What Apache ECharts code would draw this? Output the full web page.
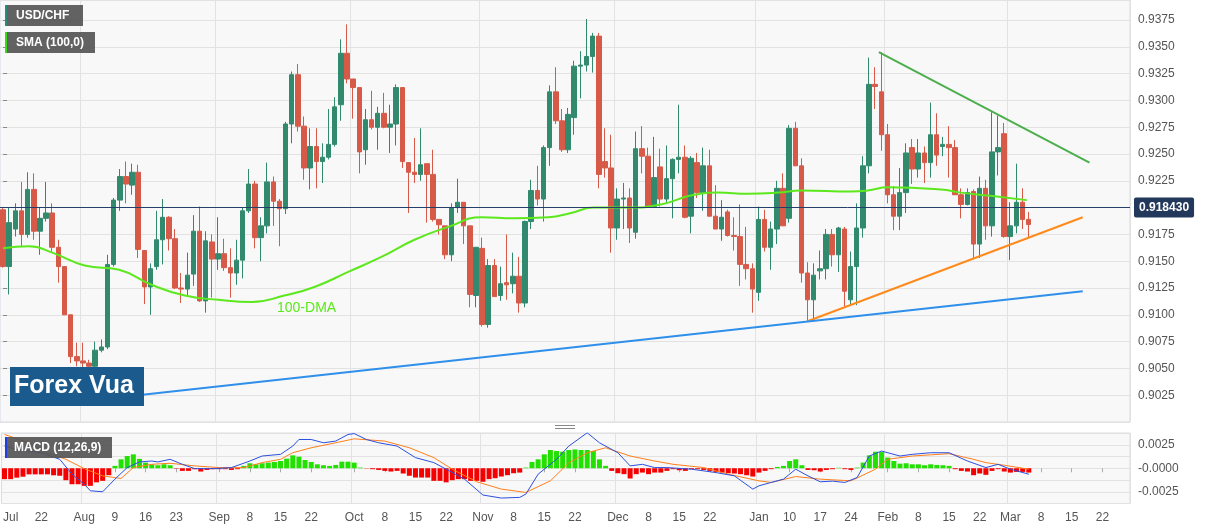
<!DOCTYPE html>
<html><head><meta charset="utf-8">
<script src="https://cdn.jsdelivr.net/npm/echarts@6/dist/echarts.min.js"></script>
<style>html,body{margin:0;padding:0;background:#fff}#c{width:1207px;height:526px}</style>
</head><body><div id="c"></div>
<script>
// candles: [open, close, low, high]
const candles = [
[.9198,.9145,.9144,.9200],[.9145,.9186,.9119,.9200],[.9180,.9197,.9173,.9204],[.9197,.9175,.9164,.9224],[.9175,.9217,.9172,.9233],
[.9217,.9178,.9170,.9232],[.9178,.9190,.9156,.9200],[.9190,.9195,.9187,.9224],[.9195,.9163,.9158,.9204],[.9163,.9145,.9130,.9170],
[.9145,.9100,.9100,.9145],[.9100,.9061,.9055,.9100],[.9061,.9057,.9052,.9074],[.9057,.9055,.9049,.9074],[.9055,.9052,.9046,.9058],
[.9052,.9067,.9049,.9075],[.9067,.9070,.9065,.9077],[.9070,.9147,.9068,.9156],[.9147,.9207,.9145,.9209],[.9207,.9229,.9197,.9236],
[.9229,.9222,.9204,.9243],[.9221,.9233,.9212,.9241],[.9233,.9161,.9153,.9240],[.9160,.9126,.9110,.9160],[.9126,.9143,.9100,.9148],
[.9145,.9170,.9142,.9197],[.9170,.9191,.9147,.9208],[.9191,.9171,.9160,.9192],[.9171,.9125,.9124,.9180],[.9125,.9124,.9111,.9139],
[.9124,.9137,.9118,.9158],[.9138,.9178,.9127,.9193],[.9178,.9113,.9112,.9201],[.9113,.9169,.9102,.9178],[.9168,.9152,.9116,.9175],
[.9152,.9157,.9142,.9191],[.9157,.9144,.9141,.9171],[.9144,.9139,.9116,.9162],[.9139,.9151,.9128,.9170],[.9151,.9197,.9134,.9200],
[.9197,.9222,.9195,.9236],[.9222,.9172,.9162,.9225],[.9172,.9183,.9150,.9191],[.9183,.9224,.9176,.9242],[.9224,.9206,.9183,.9229],
[.9206,.9199,.9164,.9208],[.9199,.9278,.9194,.9280],[.9278,.9324,.9260,.9327],[.9324,.9276,.9271,.9334],[.9276,.9237,.9226,.9285],
[.9237,.9257,.9217,.9274],[.9257,.9243,.9218,.9274],[.9243,.9247,.9223,.9260],[.9247,.9259,.9245,.9292],[.9259,.9294,.9257,.9303],
[.9296,.9344,.9281,.9357],[.9344,.9320,.9316,.9371],[.9320,.9312,.9283,.9320],[.9312,.9252,.9232,.9312],[.9254,.9282,.9240,.9292],
[.9282,.9275,.9273,.9309],[.9275,.9288,.9254,.9294],[.9288,.9275,.9274,.9307],[.9275,.9278,.9251,.9296],[.9278,.9312,.9258,.9315],
[.9312,.9243,.9237,.9312],[.9242,.9233,.9195,.9242],[.9233,.9231,.9223,.9265],[.9231,.9240,.9225,.9274],[.9241,.9231,.9186,.9241],
[.9231,.9189,.9187,.9254],[.9189,.9184,.9175,.9189],[.9183,.9156,.9152,.9183],[.9156,.9200,.9150,.9204],[.9200,.9205,.9195,.9227],
[.9205,.9183,.9166,.9205],[.9183,.9119,.9107,.9183],[.9118,.9163,.9107,.9163],[.9162,.9091,.9089,.9172],[.9091,.9146,.9088,.9152],
[.9146,.9117,.9117,.9152],[.9118,.9129,.9113,.9145],[.9130,.9128,.9114,.9175],[.9129,.9136,.9120,.9158],[.9136,.9111,.9102,.9154],
[.9111,.9187,.9107,.9188],[.9187,.9216,.9180,.9226],[.9216,.9208,.9202,.9239],[.9208,.9256,.9187,.9258],[.9256,.9308,.9239,.9314],
[.9308,.9281,.9278,.9331],[.9281,.9254,.9252,.9292],[.9254,.9287,.9251,.9293],[.9284,.9332,.9268,.9337],[.9332,.9333,.9302,.9346],
[.9333,.9341,.9327,.9376],[.9341,.9360,.9326,.9363],[.9360,.9231,.9218,.9363],[.9243,.9237,.9228,.9274],[.9237,.9181,.9158,.9268],
[.9181,.9208,.9170,.9218],[.9208,.9209,.9180,.9223],[.9209,.9181,.9167,.9218],[.9177,.9255,.9171,.9271],[.9255,.9248,.9232,.9276],
[.9248,.9201,.9201,.9256],[.9201,.9228,.9201,.9266],[.9238,.9208,.9201,.9255],[.9208,.9227,.9204,.9258],[.9227,.9245,.9190,.9246],
[.9245,.9247,.9232,.9296],[.9247,.9191,.9190,.9258],[.9192,.9246,.9176,.9248],[.9242,.9214,.9209,.9251],[.9214,.9239,.9197,.9256],
[.9239,.9192,.9192,.9254],[.9192,.9180,.9180,.9221],[.9180,.9191,.9169,.9207],[.9196,.9174,.9173,.9198],[.9174,.9173,.9160,.9191],
[.9173,.9147,.9127,.9203],[.9147,.9143,.9133,.9182],[.9143,.9124,.9102,.9148],[.9121,.9189,.9113,.9201],[.9189,.9163,.9159,.9198],
[.9163,.9180,.9142,.9187],[.9180,.9218,.9166,.9225],[.9218,.9183,.9183,.9232],[.9190,.9274,.9186,.9277],[.9274,.9239,.9239,.9280],
[.9239,.9139,.9130,.9246],[.9139,.9114,.9094,.9149],[.9114,.9137,.9094,.9148],[.9141,.9143,.9133,.9160],[.9143,.9175,.9133,.9180],
[.9175,.9156,.9145,.9180],[.9156,.9181,.9140,.9182],[.9180,.9122,.9108,.9182],[.9114,.9145,.9110,.9159],[.9145,.9181,.9109,.9204],
[.9181,.9239,.9172,.9248],[.9239,.9315,.9232,.9340],[.9315,.9313,.9292,.9331],[.9308,.9268,.9253,.9345],[.9268,.9212,.9204,.9278],
[.9212,.9192,.9179,.9220],[.9192,.9214,.9179,.9237],[.9214,.9251,.9195,.9260],[.9256,.9236,.9222,.9264],[.9236,.9251,.9228,.9264],
[.9251,.9242,.9223,.9257],[.9242,.9268,.9228,.9298],[.9268,.9249,.9239,.9288],[.9257,.9259,.9248,.9266],[.9259,.9256,.9228,.9276],
[.9256,.9212,.9212,.9263],[.9212,.9203,.9190,.9218],[.9203,.9214,.9202,.9218],[.9215,.9166,.9152,.9217],[.9166,.9218,.9153,.9229],
[.9218,.9183,.9170,.9226],[.9183,.9252,.9173,.9289],[.9252,.9256,.9230,.9286],[.9269,.9173,.9172,.9279],[.9173,.9183,.9151,.9205],
[.9183,.9205,.9176,.9241],[.9205,.9189,.9180,.9218],[.9189,.91843,.9172,.9196]
];
// 100-day SMA readings [categoryPos, value]
const sma = [[0,.9162],[4.2,.9164],[8,.9158],[13.3,.9146],[18.9,.9142],[24.2,.9128],[29.6,.9118],[35.1,.9114],[40.5,.9112],[45.8,.9118],[50.7,.9126],[56.2,.9140],[61.6,.9154],[67,.9170],[72.5,.9182],[77.9,.9191],[83.2,.9190],[88.8,.9191],[92.5,.9195],[96.2,.9200],[101.8,.9200],[107.1,.9203],[112.5,.9212],[116.4,.9214],[121.3,.9213],[126.2,.9214],[130,.9216],[138.1,.9215],[140.8,.9216],[144.1,.9219],[152.7,.9217],[156,.9214],[160.8,.9211],[166.7,.9207]];
// MACD histogram (x1e-4)
const hist = [-11.6,-11.6,-10,-9,-6.5,-6.5,-6.5,-6.5,-7.5,-8,-12.7,-17,-17,-18.7,-18.7,-15,-13.4,-7.4,2.5,9.5,13,14.8,10,6,4.2,3.2,4.2,3.2,-0.5,-2.8,-2.8,-1,-3.5,-1.8,-1,-1,-1,-1.8,-1,2.5,5.3,4.2,5.3,6,6.7,7.7,10.2,13.7,12.3,8.8,6.7,4.2,3.2,2.5,3.5,7,7,6,0.7,-0.3,-1,-1.8,-2.8,-3.5,-2.8,-5.6,-8,-9.9,-9.9,-9.9,-13.4,-13.4,-15,-12.7,-11.6,-11.6,-13.4,-13.4,-14.4,-11.6,-10.6,-8.8,-7.4,-5.3,-4.6,0.7,6.7,9.5,14.8,19.4,18.3,17.6,19.4,20,19.4,19.4,18.3,9.5,2.5,-2.8,-5.3,-6.3,-10.9,-6.3,-4.6,-6.3,-4.6,-4.6,-2.8,-1,-2.1,-2.8,-1,-1,-1.8,-2.8,-3.9,-4.6,-5.3,-5.6,-6.3,-7.4,-8.8,-4.6,-2.8,-1,1.4,2.5,7.7,9.5,3.2,-1.8,-2.1,-3.5,-1.8,-1,0.5,-1,-1.8,0.7,6,13.7,17.6,17.2,11.3,7.7,4.9,5.3,4.2,4.2,3.2,4.2,3.5,3.2,2.5,-1,-2.8,-3.5,-7.4,-5.6,-7,-2.8,-1,-3.5,-4.6,-3.9,-3.9,-4.6];
// MACD line & signal (x1e-4) [categoryPos, value]
const macdLine = [[0,23.6],[2,20],[6,16.5],[9,9.5],[11,-6.3],[13,-17],[14,-24],[16,-25],[18,-11.6],[20,0.7],[22,6.7],[24,7.7],[25,6.7],[27,9.5],[29,4.2],[31,-0.4],[34,-0.4],[37,0.7],[40,7.7],[42,13],[45,14.8],[47,23.6],[48,30.6],[50,30.6],[52,27.1],[54,28.9],[56,35.9],[57,36.9],[59,30.6],[61,27.1],[64,23.6],[67,11.3],[70,6],[72,-1],[75,-11.6],[78,-28.5],[81,-31.7],[84,-31],[85,-27.5],[87,-6.3],[90,9.5],[92,23.6],[95,37.7],[97,27.1],[100,16.5],[102,2.5],[104,4.2],[106,0.7],[108,0.7],[112,-1],[116,-4.6],[119,-8.1],[122,-22.2],[123,-18.7],[125,-15.1],[127,-11.6],[129,-1],[131,-8.1],[133,-14.4],[135,-13.7],[137,-15.1],[139,-9.9],[141,13],[143,18.3],[146,13],[148,14.8],[151,16.5],[154,16.5],[157,7.7],[160,0.7],[162,4.2],[164,-1],[167,-6.3]];
const signalLine = [[0,35.9],[4,27.1],[7,16.5],[10,9.5],[13,-0.4],[16,-8.1],[19,-10.9],[21,0.7],[24,4.2],[27,5.3],[31,2.5],[35,0.7],[39,0.7],[42,6],[45,9.5],[47,16.5],[50,21.8],[54,27.1],[57,31.3],[62,28.9],[66,21.8],[70,11.3],[73,-1],[77,-14.4],[81,-22.2],[85,-25.7],[89,-13.4],[92,5.8],[95,16.5],[98,21.8],[102,13],[106,7.7],[109,4.2],[114,0.7],[118,-6.3],[123,-13.4],[125,-15.1],[129,-8.8],[133,-11.6],[138,-13.4],[142,-1],[144,9.5],[148,13],[154,15.5],[158,9.5],[160,6],[163,3.2],[167,-1]];
// trend lines [[x1,y1],[x2,y2]]
const trendGreen = [[142.6,.9345],[176.9,.9242]];
const trendOrange = [[131,.9094],[175.8,.9191]];
const trendBlue = [[19,.9023],[175.8,.9122]];
const lastPrice = 0.91843;
// x-axis tick labels
const tickIdx = [1,6,13,18,23,28,35,40,45,50,57,62,67,72,78,83,88,93,100,105,110,115,123,128,133,138,144,149,154,159,164,169,174,179];
const tickText = ['Jul','22','Aug','9','16','23','Sep','8','15','22','Oct','8','15','22','Nov','8','15','22','Dec','8','15','22','Jan','10','17','24','Feb','8','15','22','Mar','8','15','22'];
const monthIdx = [13,35,57,78,100,123,144,164];
const NCAT = 184;

const cats = []; for (let i = 0; i < NCAT; i++) cats.push(String(i));
const histData = hist.map(v => ({value: v/10000, itemStyle: {color: v >= 0 ? '#22e000' : '#f50000'}}));
const sc = a => a.map(p => [p[0], p[1]/10000]);
const tl = (d, c) => ({type:'line', xAxisIndex:2, yAxisIndex:0, data:d, symbol:'none', silent:true, lineStyle:{color:c, width:2}, z:5});

const gridBg = {show:true, backgroundColor:'#f8f8f8', borderColor:'#d6dae3', borderWidth:1};
const catAxis = (gi, showLabel) => ({
  type:'category', gridIndex:gi, data:cats, boundaryGap:true,
  axisLine:{show:false},
  axisTick:{show:showLabel, interval:(i)=>tickIdx.includes(i), alignWithLabel:true, lineStyle:{color:'#aaa'}, length:4},
  axisLabel:{show:showLabel, interval:(i)=>tickIdx.includes(i), formatter:(v,i)=>{const k=tickIdx.indexOf(Number(v)); return k>=0?tickText[k]:'';}, color:'#555', fontSize:12, fontFamily:'Arial', margin:8},
  splitLine:{show:true, interval:(i)=>monthIdx.includes(i), lineStyle:{color:'#e2e2e2'}}
});
const box = (x,y,w,h,accent,text,font,tx) => [
  {type:'rect', z:100, shape:{x:x,y:y,width:w,height:h}, style:{fill:'rgba(85,85,85,0.92)'}},
  {type:'rect', z:101, shape:{x:x,y:y,width:2,height:h}, style:{fill:accent}},
  {type:'text', z:102, x:tx, y:y+h/2, style:{text:text, fill:'#fff', font:font, textVerticalAlign:'middle'}}
];

const chart = echarts.init(document.getElementById('c'));
chart.setOption({
  animation:false,
  grid:[
    Object.assign({left:-2, right:77, top:0, height:422}, gridBg),
    Object.assign({left:-2, right:77, top:433, height:70.5}, gridBg)
  ],
  xAxis:[
    catAxis(0,false), catAxis(1,true),
    {type:'value', gridIndex:0, min:-0.5, max:NCAT-0.5, show:false}
  ],
  yAxis:[
    {type:'value', gridIndex:0, position:'right', min:0.9, max:0.93937, interval:0.0025, scale:true,
     axisLine:{show:false}, axisTick:{show:true, length:4, lineStyle:{color:'#888'}},
     axisLabel:{showMaxLabel:false, showMinLabel:false, color:'#555', fontSize:12, fontFamily:'Arial', formatter:v=>v.toFixed(4)},
     splitLine:{lineStyle:{color:'#e2e2e2'}}},
    {type:'value', gridIndex:1, position:'right', min:-0.00375, max:0.00375, interval:0.00125,
     axisLine:{show:false}, axisTick:{show:false},
     axisLabel:{showMaxLabel:false, showMinLabel:false, color:'#555', fontSize:12, fontFamily:'Arial',
       formatter:v=>{const r=Math.round(v/0.00125); if (r%2!==0) return ''; if (r===0) return '-0.0000'; return v.toFixed(4);}},
     splitLine:{show:true, interval:0, lineStyle:{color:'#e2e2e2'}}}
  ],
  series:[
    {type:'candlestick', xAxisIndex:0, yAxisIndex:0, data:candles, barWidth:5,
     itemStyle:{color:'#318a6e', color0:'#d75a48', borderColor:'#318a6e', borderColor0:'#d75a48', borderWidth:1},
     markLine:{symbol:'none', silent:true, data:[{yAxis:lastPrice}], lineStyle:{color:'#24406a', width:1, type:'solid'},
       label:{position:'end', formatter:'0.918430', backgroundColor:'#22395c', color:'#fff', fontWeight:'bold', fontSize:12, fontFamily:'Arial', padding:[4,5], borderRadius:2, distance:4}}},
    {type:'line', xAxisIndex:2, yAxisIndex:0, data:sma, smooth:true, symbol:'none', lineStyle:{color:'#5ce81c', width:2}, z:4},
    tl(trendGreen,'#4cae4c'), tl(trendOrange,'#ff8a1c'), tl(trendBlue,'#2f8fea'),
    {type:'bar', xAxisIndex:1, yAxisIndex:1, data:histData, barWidth:5},
    {type:'line', xAxisIndex:1, yAxisIndex:1, data:sc(signalLine), symbol:'none', lineStyle:{color:'#ff7f1a', width:1}},
    {type:'line', xAxisIndex:1, yAxisIndex:1, data:sc(macdLine), symbol:'none', lineStyle:{color:'#2b4fe0', width:1}}
  ],
  graphic:[].concat(
    box(5,5,78,21,'#2c8a7a','USD/CHF','bold 12px Arial',16),
    box(5,32,90,21,'#33dd11','SMA (100,0)','bold 12px Arial',16),
    box(5,437,107,21,'#1f3fe0','MACD (12,26,9)','bold 12px Arial',14),
    [
    {type:'text', z:100, x:277, y:308, style:{text:'100-DMA', fill:'#5ce81c', font:'14px Arial', textVerticalAlign:'middle'}},
    {type:'rect', z:100, shape:{x:10,y:367,width:134,height:39}, style:{fill:'#1b5a8c'}},
    {type:'text', z:101, x:14, y:386, style:{text:'Forex Vua', fill:'#fff', font:'bold 25px Arial', textVerticalAlign:'middle'}},
    {type:'rect', z:100, shape:{x:555,y:425,width:20,height:1}, style:{fill:'#888'}},
    {type:'rect', z:100, shape:{x:555,y:428,width:20,height:1}, style:{fill:'#888'}}
    ])
});
</script></body></html>
